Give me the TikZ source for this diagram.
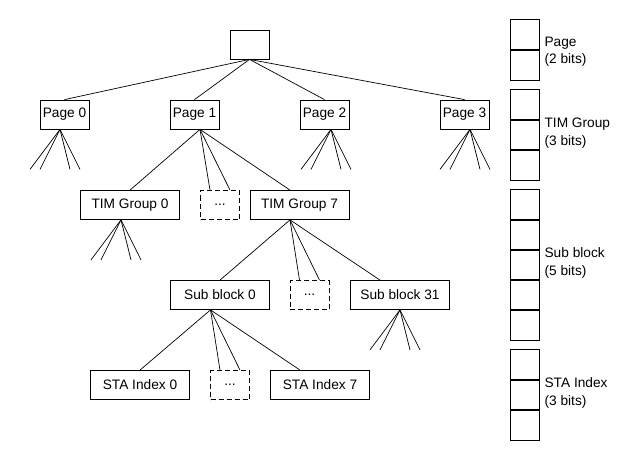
\documentclass[tikz,border=0pt]{standalone}
\usepackage{fontspec}
\setmainfont{Liberation Sans}
\begin{document}
\begin{tikzpicture}[
  x=1pt, y=-1pt,
  font=\fontsize{13.7}{17.5}\selectfont,
  box/.style={
    draw=black,
    line width=0.8pt,
    fill=white,
    inner sep=0pt,
    minimum height=29pt,
    align=center
  },
  pagebox/.style={box, minimum width=49pt},
  widebox/.style={box, minimum width=99pt},
  dotsbox/.style={box, dash pattern=on 5pt off 3pt, minimum width=39pt},
  bitcell/.style={
    draw=black,
    line width=0.8pt,
    minimum width=29pt,
    minimum height=31pt,
    inner sep=0pt
  },
  bitlabel/.style={anchor=west, align=left, inner sep=0pt},
  edge/.style={draw=black, line width=0.7pt}
]

\useasboundingbox (0,0) rectangle (641,460);

\node[box, minimum width=39pt] (root) at (249.5,44.5) {};

\node[pagebox] (page0) at (64.5,114.5) {Page 0};
\node[pagebox] (page1) at (194.5,114.5) {Page 1};
\node[pagebox] (page2) at (324.5,114.5) {Page 2};
\node[pagebox] (page3) at (464.5,114.5) {Page 3};

\node[widebox] (timGroup0) at (130,205) {TIM Group 0};
\node[dotsbox] (timDots) at (220,205) {.{}.{}.};
\node[widebox] (timGroup7) at (299.5,205) {TIM Group 7};

\node[widebox] (subBlock0) at (220,295) {Sub block 0};
\node[dotsbox] (subDots) at (309.5,295) {.{}.{}.};
\node[widebox] (subBlock31) at (400,295) {Sub block 31};

\node[widebox] (staIndex0) at (140,385) {STA Index 0};
\node[dotsbox] (staDots) at (230,385) {.{}.{}.};
\node[widebox] (staIndex7) at (320,385) {STA Index 7};

\coordinate (page0Fan) at ([xshift=-4.5pt]page0.south);
\coordinate (page1Fan) at ([xshift=5.5pt]page1.south);
\coordinate (page2Fan) at ([xshift=6.5pt]page2.south);
\coordinate (page3Fan) at ([xshift=5.5pt]page3.south);
\coordinate (tim0Fan) at ([xshift=-9pt]timGroup0.south);
\coordinate (tim7Fan) at ([xshift=-9.5pt]timGroup7.south);
\coordinate (sub0Fan) at ([xshift=-9.5pt]subBlock0.south);
\coordinate (sub31Fan) at (subBlock31.south);

\foreach \n in {page0,page1,page2,page3}
  \draw[edge] (root.south) -- (\n.north);

\draw[edge] (page1Fan) -- (timGroup0.north);
\draw[edge] (page1Fan) -- ([xshift=-10pt]timDots.north);
\draw[edge] (page1Fan) -- ([xshift=10pt]timDots.north);
\draw[edge] (page1Fan) -- ([xshift=-9.5pt]timGroup7.north);

\draw[edge] (tim7Fan) -- (subBlock0.north);
\draw[edge] (tim7Fan) -- ([xshift=-10pt]subDots.north);
\draw[edge] (tim7Fan) -- ([xshift=10pt]subDots.north);
\draw[edge] (tim7Fan) -- ([xshift=-20pt]subBlock31.north);

\draw[edge] (sub0Fan) -- (staIndex0.north);
\draw[edge] (sub0Fan) -- ([xshift=-10pt]staDots.north);
\draw[edge] (sub0Fan) -- ([xshift=10pt]staDots.north);
\draw[edge] (sub0Fan) -- ([xshift=-20pt]staIndex7.north);

\foreach \f in {page0Fan,page2Fan,page3Fan,tim0Fan,sub31Fan}
  \foreach \d in {-30,-20,10,20}
    \draw[edge] (\f) -- ([shift={(\d,40)}]\f);

\foreach \i in {0,1}
  \node[bitcell] (pageBit\i) at (524.5,{35+30*\i}) {};
\foreach \i in {0,1,2}
  \node[bitcell] (timBit\i) at (524.5,{105+30*\i}) {};
\foreach \i in {0,...,4}
  \node[bitcell] (subBit\i) at (524.5,{205+30*\i}) {};
\foreach \i in {0,1,2}
  \node[bitcell] (staBit\i) at (524.5,{365+30*\i}) {};

\node[bitlabel] (pageLabel) at ([xshift=5pt,yshift=-1pt]pageBit0.south east) {Page\\(2 bits)};
\node[bitlabel] (timLabel) at ([xshift=5pt,yshift=2pt]timBit1.east) {TIM Group\\(3 bits)};
\node[bitlabel] (subLabel) at ([xshift=5pt,yshift=2pt]subBit2.east) {Sub block\\(5 bits)};
\node[bitlabel] (staLabel) at ([xshift=5pt,yshift=2pt]staBit1.east) {STA Index\\(3 bits)};

\end{tikzpicture}
\end{document}
